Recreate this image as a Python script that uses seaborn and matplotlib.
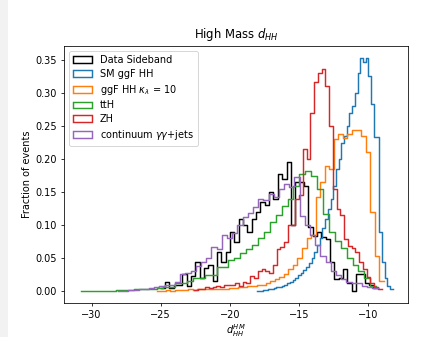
import numpy as np
import matplotlib
matplotlib.use("Agg")
import matplotlib.pyplot as plt
import seaborn as sns
from matplotlib.patches import Patch, Rectangle

# ---------------- data (bin range + per-bin fraction of events) ----------------
labels = ["Data Sideband", "SM ggF HH", r"ggF HH $\kappa_\lambda$ = 10", "ttH", "ZH",
          r"continuum $\gamma\gamma$+jets"]
colors = ["black", "#1f77b4", "#ff7f0e", "#2ca02c", "#d62728", "#9467bd"]

data_range = (-25.0, -9.3)
data_heights = [0.005, 0.014, 0.005, 0.010, 0.010, 0.026, 0.008, 0.023, 0.044, 0.020,
                0.035, 0.040, 0.015, 0.060, 0.045, 0.060, 0.090, 0.075, 0.110, 0.100,
                0.090, 0.110, 0.120, 0.135, 0.130, 0.150, 0.140, 0.177, 0.170, 0.195,
                0.100, 0.165, 0.165, 0.160, 0.097, 0.083, 0.090, 0.082, 0.079, 0.044,
                0.018, 0.020, 0.033, 0.012, 0.000, 0.026, 0.026, 0.012, 0.010, 0.005]

sm_range = (-18.0, -8.2)
sm_heights = [0.001, 0.001, 0.002, 0.002, 0.003, 0.004, 0.005, 0.006, 0.007, 0.008,
              0.010, 0.012, 0.014, 0.017, 0.020, 0.024, 0.028, 0.032, 0.037, 0.043,
              0.050, 0.060, 0.070, 0.080, 0.095, 0.110, 0.125, 0.140, 0.160, 0.185,
              0.200, 0.225, 0.235, 0.250, 0.270, 0.280, 0.300, 0.330, 0.353, 0.347,
              0.353, 0.326, 0.283, 0.233, 0.233, 0.090, 0.045, 0.020, 0.008, 0.003]

kl10_range = (-25.3, -8.85)
kl10_heights = [0.001, 0.001, 0.002, 0.001, 0.002, 0.002, 0.002, 0.003, 0.002, 0.003,
                0.003, 0.003, 0.004, 0.003, 0.004, 0.004, 0.005, 0.005, 0.006, 0.007,
                0.008, 0.008, 0.009, 0.010, 0.012, 0.015, 0.018, 0.022, 0.026, 0.033,
                0.040, 0.050, 0.065, 0.080, 0.085, 0.142, 0.165, 0.190, 0.185, 0.230,
                0.238, 0.232, 0.238, 0.244, 0.244, 0.235, 0.210, 0.120, 0.053, 0.015]

tth_range = (-30.8, -9.4)
tth_heights = [0.0005, 0.0005, 0.001, 0.001, 0.001, 0.001, 0.002, 0.002, 0.002, 0.003,
               0.003, 0.004, 0.004, 0.005, 0.006, 0.006, 0.013, 0.013, 0.015, 0.020,
               0.020, 0.025, 0.025, 0.036, 0.036, 0.048, 0.050, 0.058, 0.064, 0.070,
               0.080, 0.090, 0.105, 0.115, 0.129, 0.140, 0.160, 0.177, 0.182, 0.174,
               0.155, 0.117, 0.090, 0.076, 0.065, 0.050, 0.040, 0.030, 0.020, 0.008]

zh_range = (-22.6, -9.0)
zh_heights = [0.002, 0.003, 0.004, 0.006, 0.005, 0.006, 0.008, 0.007, 0.010, 0.009,
              0.010, 0.012, 0.008, 0.014, 0.012, 0.023, 0.020, 0.030, 0.033, 0.030,
              0.027, 0.040, 0.064, 0.067, 0.075, 0.100, 0.100, 0.140, 0.145, 0.215,
              0.200, 0.270, 0.316, 0.330, 0.336, 0.310, 0.250, 0.155, 0.124, 0.115,
              0.079, 0.068, 0.066, 0.060, 0.045, 0.033, 0.022, 0.012, 0.007, 0.004]

cont_range = (-28.1, -9.3)
cont_heights = [0.001, 0.001, 0.002, 0.002, 0.003, 0.003, 0.005, 0.006, 0.008, 0.009,
                0.010, 0.014, 0.026, 0.028, 0.030, 0.038, 0.045, 0.050, 0.067, 0.064,
                0.085, 0.080, 0.088, 0.100, 0.112, 0.118, 0.127, 0.140, 0.138, 0.147,
                0.143, 0.155, 0.162, 0.158, 0.173, 0.114, 0.100, 0.085, 0.070, 0.053,
                0.044, 0.030, 0.025, 0.018, 0.014, 0.013, 0.012, 0.008, 0.006, 0.005]

series = [
    (data_range, data_heights),
    (sm_range, sm_heights),
    (kl10_range, kl10_heights),
    (tth_range, tth_heights),
    (zh_range, zh_heights),
    (cont_range, cont_heights),
]

# ---------------- plot ----------------
fig = plt.figure(figsize=(6.4, 4.8143), dpi=70)
fig.patches.append(Rectangle((0, 0), 8 / 448, 1, transform=fig.transFigure,
                             facecolor="#f2f2f2", edgecolor="none", zorder=-5))
ax = fig.add_axes([64 / 448, 1 - 303 / 337, 344 / 448, 257 / 337])

for (rng, heights), color in zip(series, colors):
    heights = np.asarray(heights, dtype=float)
    edges = np.linspace(rng[0], rng[1], len(heights) + 1)
    centers = 0.5 * (edges[:-1] + edges[1:])
    sns.histplot(x=centers, weights=heights, bins=list(edges), stat="count",
                 element="step", fill=False, color=color, linewidth=1.5, ax=ax)

handles = [Patch(facecolor="none", edgecolor=c, linewidth=1.5, label=l)
           for c, l in zip(colors, labels)]
ax.legend(handles=handles, loc="upper left", labelspacing=0.4)

ax.set_title(r"High Mass $d_{HH}$", pad=8)
ax.set_xlabel(r"$d_{HH}^{HM}$", labelpad=2)
ax.set_ylabel("Fraction of events")
ax.set_ylim(-0.0177, 0.371)
ax.set_xlim(-32.0, -7.1)

fig.savefig("out.png", dpi=70)
